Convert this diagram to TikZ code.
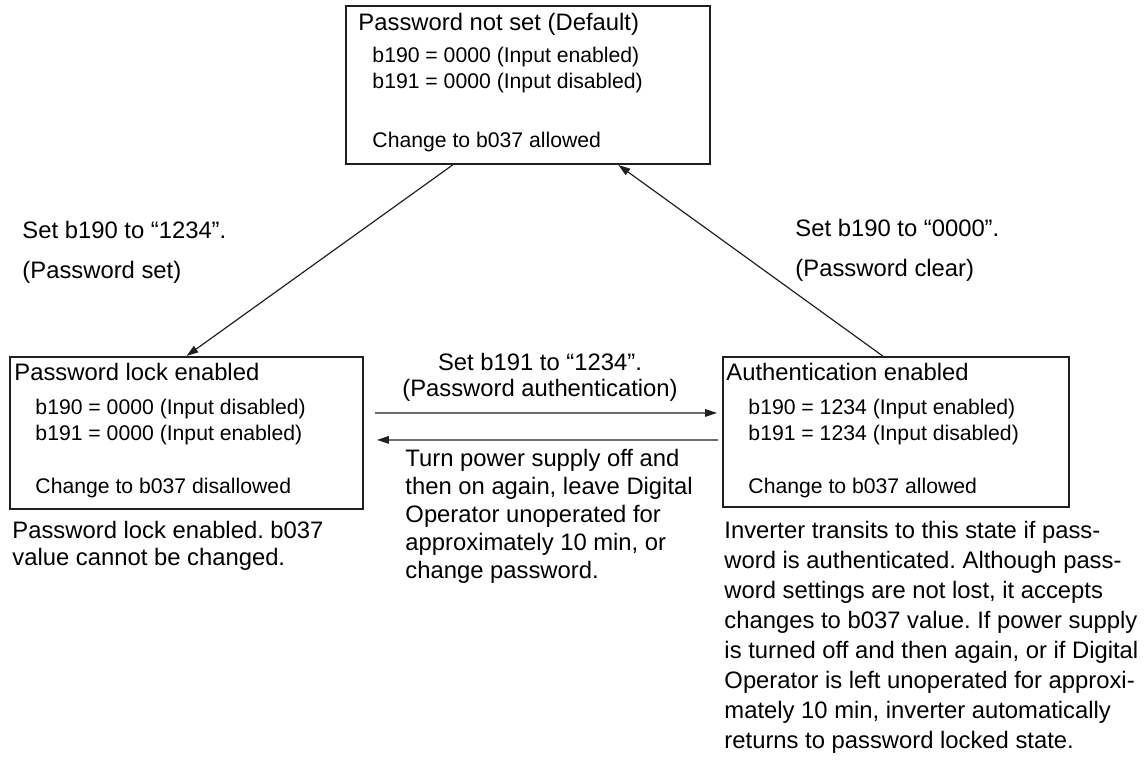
\documentclass[tikz,border=0pt]{standalone}
\usepackage{fontspec}
\setmainfont{Liberation Sans}
\usepackage{tikz}
\usetikzlibrary{arrows.meta,positioning,calc}
\definecolor{inkgray}{HTML}{231F20}
\frenchspacing

\begin{document}
\begin{tikzpicture}[x=0.42pt, y=-0.42pt,
    statebox/.style={draw=inkgray, line width=0.8pt, rectangle, inner sep=0pt, anchor=north west},
    head/.style={anchor=base west, inner sep=0pt, font=\fontsize{10}{12}\selectfont},
    entry/.style={anchor=base west, inner sep=0pt, font=\fontsize{8.9}{10}\selectfont},
    note/.style={anchor=base west, inner sep=0pt, align=left},
    arw/.style={-{Triangle[length=5pt, width=3.2pt]}, line width=0.5pt, draw=inkgray}]
    \useasboundingbox (0,0) rectangle (1147,770);

    % States
    \node[statebox, minimum width=152.9pt, minimum height=66.4pt] (notset) at (345,5) {};
    \node[statebox, minimum width=148.3pt, minimum height=63.8pt] (lock) at (9,356) {};
    \node[statebox, minimum width=145.3pt, minimum height=63pt] (auth) at (722,356) {};

    % Password not set
    \node[head] (notset-t) at (358,30) {Password not set (Default)};
    \node[entry] (notset-a) at (372,63) {b190 = 0000 (Input enabled)};
    \node[entry] (notset-b) at (372,88) {b191 = 0000 (Input disabled)};
    \node[entry] (notset-c) at (372,147) {Change to b037 allowed};

    % Password lock
    \node[head] (lock-t) at (14,380) {Password lock enabled};
    \node[entry] (lock-a) at (35,414) {b190 = 0000 (Input disabled)};
    \node[entry] (lock-b) at (35,440) {b191 = 0000 (Input enabled)};
    \node[entry] (lock-c) at (35,493) {Change to b037 disallowed};

    % Authentication
    \node[head] (auth-t) at (726,380) {Authentication enabled};
    \node[entry] (auth-a) at (748,414) {b190 = 1234 (Input enabled)};
    \node[entry] (auth-b) at (748,440) {b191 = 1234 (Input disabled)};
    \node[entry] (auth-c) at (748,493) {Change to b037 allowed};

    % Transition labels (placed by their last line)
    \node[note, font=\fontsize{10}{16.4}\selectfont] (setpw) at (22,278) {Set b190 to “1234”.\\(Password set)};
    \node[note, font=\fontsize{10}{16.4}\selectfont] (clearpw) at (795,276) {Set b190 to “0000”.\\(Password clear)};
    \node[note, anchor=base, align=center, font=\fontsize{10}{10.9}\selectfont] (authpw) at (540,396) {Set b191 to “1234”.\\(Password authentication)};
    \node[note, font=\fontsize{10}{11.7}\selectfont] (relock) at (405,578) {Turn power supply off and\\then on again, leave Digital\\Operator unoperated for\\approximately 10 min, or\\change password.};

    % Remarks
    \node[note, font=\fontsize{10}{11}\selectfont] (lock-r) at (12,565) {Password lock enabled. b037\\value cannot be changed.};
    \node[note, font=\fontsize{10}{12.6}\selectfont] (auth-r) at (724,748) {Inverter transits to this state if pass-\\word is authenticated. Although pass-\\word settings are not lost, it accepts\\changes to b037 value. If power supply\\is turned off and then again, or if Digital\\Operator is left unoperated for approxi-\\mately 10 min, inverter automatically\\returns to password locked state.};

    % Connections
    \draw[arw] ($(notset.south west)!0.294!(notset.south east)$) -- (lock.north);
    \draw[arw] ($(auth.north west)!0.462!(auth.north east)$) -- ($(notset.south west)!0.747!(notset.south east)$);
    \draw[arw] ($(lock.east)+(11,-20)$) -- ($(auth.west)+(-5,-19)$);
    \draw[arw] ($(auth.west)+(-4,8)$) -- ($(lock.east)+(13,7)$);
\end{tikzpicture}
\end{document}
